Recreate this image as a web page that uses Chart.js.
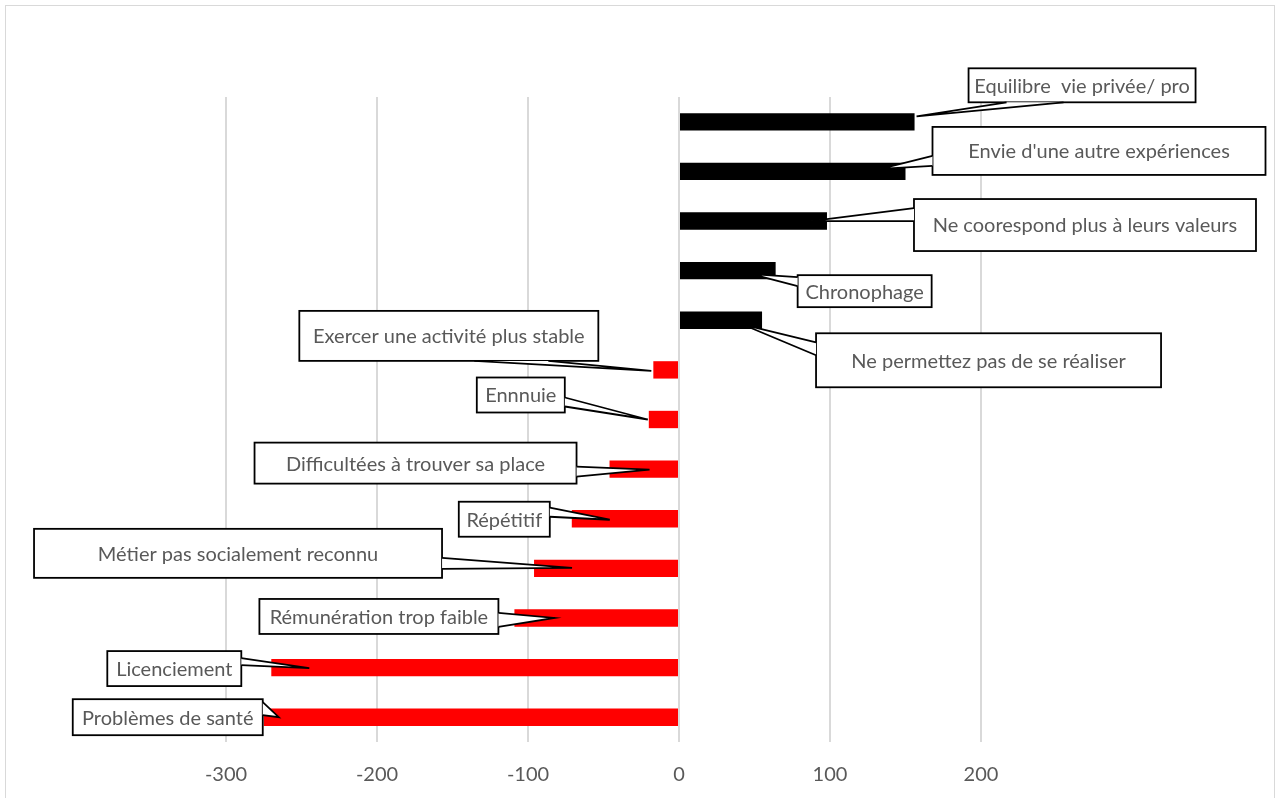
<!DOCTYPE html>
<html>
<head>
<meta charset="utf-8">
<script src="https://cdn.jsdelivr.net/npm/chart.js@4.4.1/dist/chart.umd.min.js"></script>
<style>
  html, body { margin: 0; padding: 0; background: #fff; }
  #wrap { position: relative; width: 1279px; height: 798px; }
</style>
</head>
<body>
<div id="wrap"><canvas id="chart" width="1279" height="798"></canvas></div>
<script>
// categories, top to bottom
var categories = [
  'Equilibre  vie privée/ pro',
  "Envie d'une autre expériences",
  'Ne coorespond plus à leurs valeurs',
  'Chronophage',
  'Ne permettez pas de se réaliser',
  'Exercer une activité plus stable',
  'Ennnuie',
  'Difficultées à trouver sa place',
  'Répétitif',
  'Métier pas socialement reconnu',
  'Rémunération trop faible',
  'Licenciement',
  'Problèmes de santé'
];
var values = [156, 150, 98, 64, 55, -17, -20, -46, -71, -96, -109, -270, -275];
var xTicks = [-300, -200, -100, 0, 100, 200];

// callout layout, relative to the bar end (px): box [dx, dy, w, h], wedge base (box-relative), tip offset
var callouts = [
  { box: [54, -53.5, 227, 34], base: [38, 34, 95, 34], tip: [2, -5.5] },
  { box: [27, -44.5, 333, 48], base: [0, 29, 0, 39], tip: [-25, -2.5] },
  { box: [87, -22, 342, 52], base: [0, 9, 0, 22], tip: [-16, 0] },
  { box: [22, 4.5, 134, 32], base: [0, 2, 0, 11], tip: [-24, 3.5] },
  { box: [54, 13, 345, 54], base: [0, 9, 0, 22], tip: [-20, 4] },
  { box: [-354, -59, 299, 50], base: [175, 50, 249, 50], tip: [-2, 1] },
  { box: [-172, -42, 88, 35], base: [88, 20, 88, 29], tip: [-1, 0] },
  { box: [-355, -26.5, 322, 41], base: [322, 24, 322, 34], tip: [40, 0.5] },
  { box: [-113, -17, 91, 35], base: [91, 6, 91, 15], tip: [38, 1] },
  { box: [-500, -39.5, 408, 49], base: [408, 29, 408, 40], tip: [38, -0.5] },
  { box: [-255, -19, 239, 35], base: [239, 14, 239, 28], tip: [40, 0] },
  { box: [-164, -16.5, 134, 35], base: [134, 7, 134, 14], tip: [38, 0.5] },
  { box: [-191, -18, 190, 36], base: [190, 3, 190, 16], tip: [15, 0] }
];

var calloutPlugin = {
  id: 'callouts',
  beforeDraw: function(chart) {
    var ctx = chart.ctx;
    ctx.save();
    ctx.fillStyle = '#fff';
    ctx.fillRect(0, 0, chart.width, chart.height);
    ctx.strokeStyle = '#d9d9d9';
    ctx.lineWidth = 1;
    ctx.strokeRect(5.5, 5.5, 1269, 820);
    ctx.restore();
  },
  afterDatasetsDraw: function(chart) {
    var ctx = chart.ctx;
    var bars = chart.getDatasetMeta(0).data;
    ctx.save();
    ctx.font = '20px Lato';
    ctx.textAlign = 'center';
    ctx.textBaseline = 'middle';
    bars.forEach(function(bar, i) {
      var c = callouts[i];
      var bx = bar.x + c.box[0], by = bar.y + c.box[1];
      var w = c.box[2], h = c.box[3];
      var b1x = bx + c.base[0], b1y = by + c.base[1];
      var b2x = bx + c.base[2], b2y = by + c.base[3];
      var tx = bar.x + c.tip[0], ty = bar.y + c.tip[1];

      ctx.lineWidth = 1.8;
      ctx.strokeStyle = '#000';
      ctx.fillStyle = '#fff';
      ctx.fillRect(bx, by, w, h);
      ctx.strokeRect(bx, by, w, h);

      // wedge
      ctx.beginPath();
      ctx.moveTo(b1x, b1y);
      ctx.lineTo(tx, ty);
      ctx.lineTo(b2x, b2y);
      ctx.closePath();
      ctx.fill();
      ctx.beginPath();
      ctx.moveTo(b1x, b1y);
      ctx.lineTo(tx, ty);
      ctx.lineTo(b2x, b2y);
      ctx.stroke();

      ctx.fillStyle = '#595959';
      ctx.fillText(categories[i], bx + w / 2, by + h / 2 + 1);
    });
    ctx.restore();
  }
};

new Chart(document.getElementById('chart').getContext('2d'), {
  type: 'bar',
  data: {
    labels: categories,
    datasets: [{
      data: values,
      backgroundColor: values.map(function(v) { return v > 0 ? '#000000' : '#ff0000'; }),
      barPercentage: 0.35,
      categoryPercentage: 1
    }]
  },
  options: {
    indexAxis: 'y',
    responsive: false,
    animation: false,
    layout: { padding: { left: 75, right: 147, top: 97, bottom: 12 } },
    plugins: { legend: { display: false }, tooltip: { enabled: false } },
    scales: {
      x: {
        min: -400,
        max: 300,
        afterBuildTicks: function(axis) {
          axis.ticks = xTicks.map(function(v) { return { value: v }; });
        },
        afterFit: function(axis) { axis.height = 44; },
        grid: { color: '#d9d9d9', lineWidth: 2, drawTicks: false },
        border: { display: false },
        ticks: { color: '#595959', font: { family: 'Lato', size: 20 }, padding: 21 }
      },
      y: { display: false }
    }
  },
  plugins: [calloutPlugin]
});
</script>
</body>
</html>
